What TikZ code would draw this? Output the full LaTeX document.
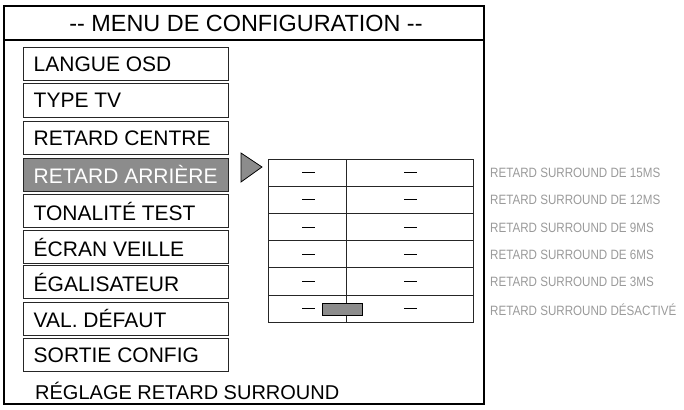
\documentclass[tikz,border=0pt]{standalone}
\usepackage{fontspec}
\setmainfont{Liberation Sans}
\usetikzlibrary{positioning}
\definecolor{selgray}{HTML}{8C8C8C}
\definecolor{labgray}{HTML}{9A9A9A}
\tikzset{
  item/.style={draw=black!85,line width=1pt,minimum width=205pt,minimum height=33pt,
    inner sep=0pt,text depth=0pt},
  itemtext/.style={anchor=west,font=\fontsize{21}{21}\selectfont,inner sep=0pt},
  cell/.style={draw=black!85,line width=0.9pt},
  level mark/.style={line width=0.7pt},
  hint/.style={anchor=west,inner sep=0pt,text=labgray,font=\fontsize{13.5}{13.5}\selectfont}
}
\begin{document}
\begin{tikzpicture}[x=1pt,y=-1pt]
      % Bounding box
      \useasboundingbox (0,0) rectangle (684,409);

      % frame and title
      \draw[line width=1.1pt] (4,6) rectangle (484,404);
      \draw[line width=1.1pt] (4,40) -- (484,40);
      \node (title) at (246,23) {\fontsize{23.4}{23.4}\selectfont -{}- MENU DE CONFIGURATION -{}-};

      % menu entries
      \foreach \y/\txt [count=\i] in {64.5/LANGUE OSD,100.5/TYPE TV,138/RETARD CENTRE,
          174.5/RETARD ARRIÈRE,211/TONALITÉ TEST,247/ÉCRAN VEILLE,282/ÉGALISATEUR,
          318.5/VAL. DÉFAUT,355/SORTIE CONFIG}{
        \ifnum\i=4
          \node[item,fill=selgray] (m\i) at (125.5,\y) {};
          \node[itemtext,text=white] at (m\i.west) [xshift=11pt] {\txt};
        \else
          \node[item] (m\i) at (125.5,\y) {};
          \node[itemtext] at (m\i.west) [xshift=11pt] {\txt};
        \fi
      }
      \node[itemtext,font=\fontsize{20}{20}\selectfont] (status) at (35,391) {RÉGLAGE RETARD SURROUND};

      % pointer
      \draw[fill=selgray,line width=0.8pt] (241,153) -- (262,167) -- (241,182) -- cycle;

      % level table
      \foreach \r in {0,...,5}{
        \pgfmathsetmacro\top{159+27.2*\r}
        \draw[cell] (268,\top) rectangle (346,\top+27.2);
        \draw[cell] (346,\top) rectangle (473,\top+27.2);
        \draw[level mark] (302,\top+13.6) -- (315,\top+13.6);
        \draw[level mark] (404,\top+13.6) -- (417,\top+13.6);
      }
      \draw[fill=selgray,line width=0.8pt] (322,303) rectangle (362,315);

      % hints
      \foreach \txt [count=\i from 0] in {RETARD SURROUND DE 15MS,RETARD SURROUND DE 12MS,
          RETARD SURROUND DE 9MS,RETARD SURROUND DE 6MS,RETARD SURROUND DE 3MS,
          RETARD SURROUND DÉSACTIVÉ}{
        \node[hint] (h\i) at (490,173+27.3*\i) {\scalebox{0.86}[1]{\txt}};
      }
    \end{tikzpicture}
\end{document}
